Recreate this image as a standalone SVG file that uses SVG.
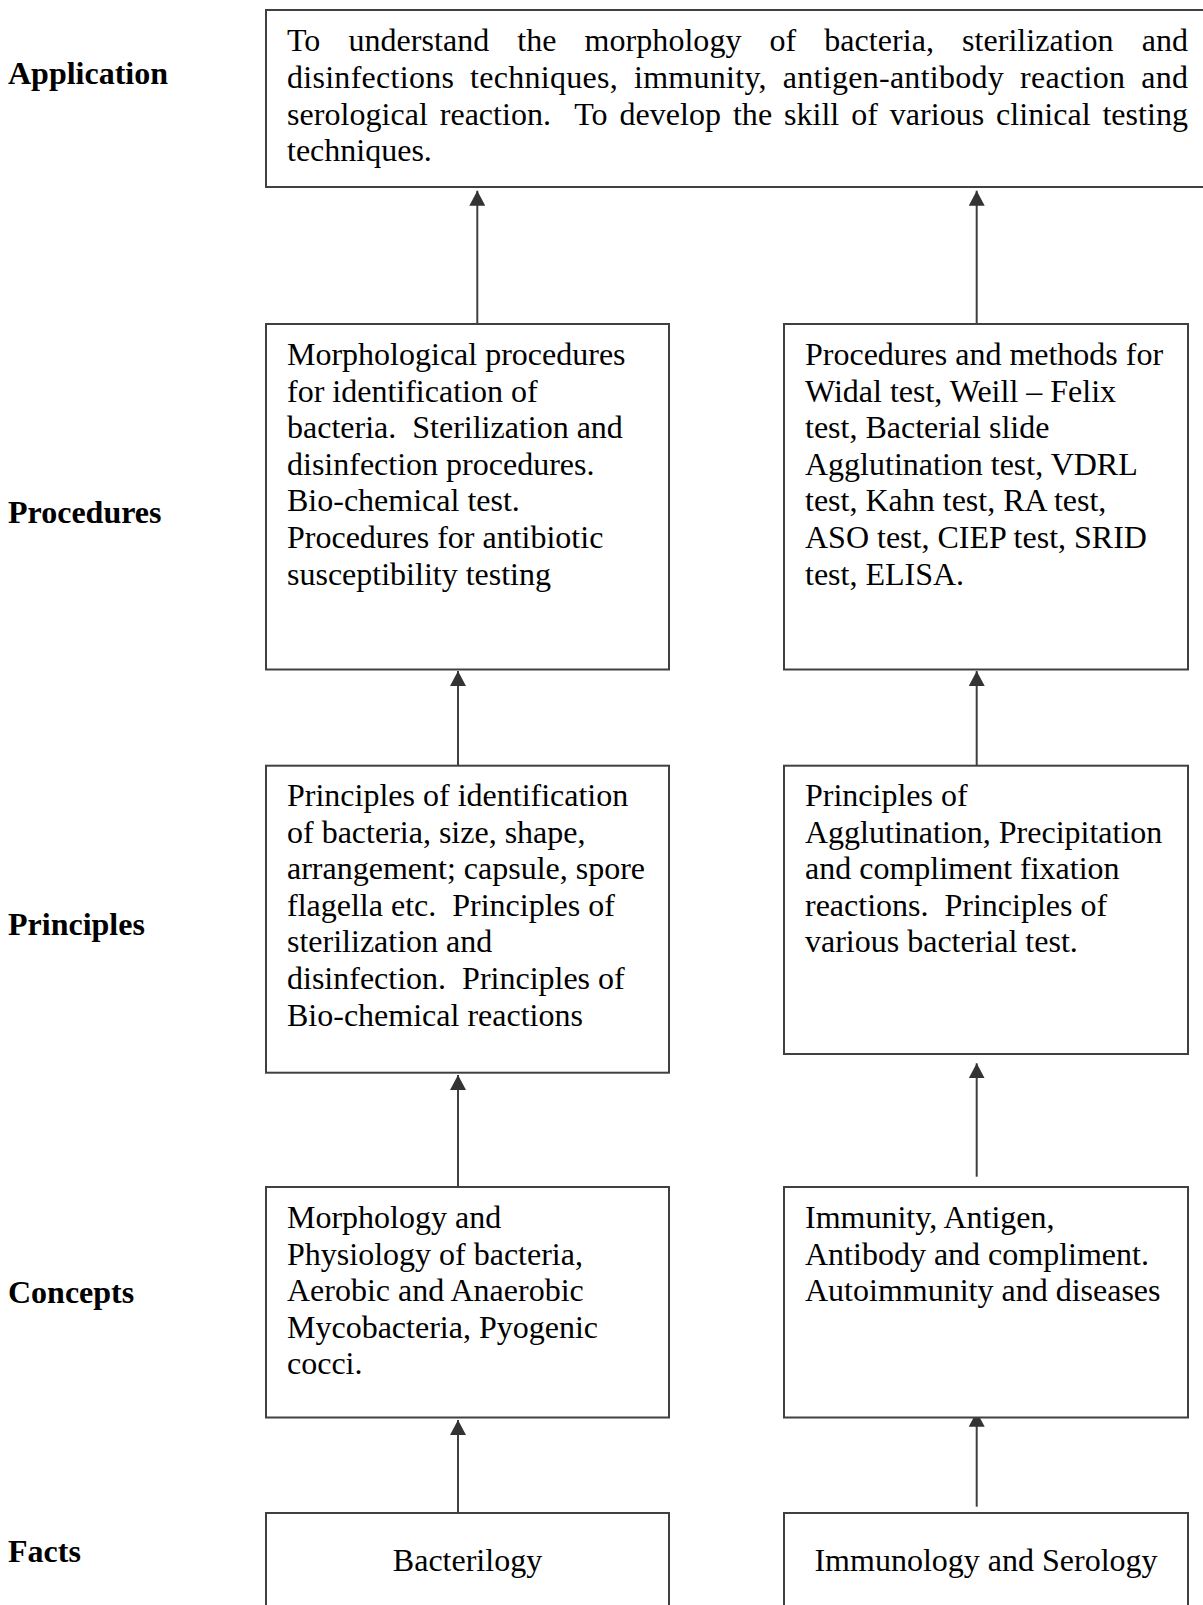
<svg xmlns="http://www.w3.org/2000/svg" width="1203" height="1605" viewBox="0 0 1203 1605">
<style>
.box{fill:#fff;stroke:#404040;stroke-width:2}
.t{font-family:"Liberation Serif","Times New Roman",serif;font-size:32px;fill:#000}
.lbl{font-family:"Liberation Serif","Times New Roman",serif;font-size:32px;font-weight:bold;fill:#000}
.c{stroke:#404040;stroke-width:2;fill:none;marker-end:url(#ah)}
</style>
<defs>
<marker id="ah" markerUnits="userSpaceOnUse" viewBox="0 0 15 16" refX="15" refY="8" markerWidth="15" markerHeight="16" orient="auto">
<path d="M0,0 L15,8 L0,16 z" fill="#333"/>
</marker>
</defs>
<rect width="1203" height="1605" fill="#fff"/>
<g id="labels">
<text class="lbl" x="8" y="84">Application</text>
<text class="lbl" x="8" y="523">Procedures</text>
<text class="lbl" x="8" y="935">Principles</text>
<text class="lbl" x="8" y="1303">Concepts</text>
<text class="lbl" x="8" y="1562">Facts</text>
</g>
<g id="connectors">
<line class="c" x1="477.3" y1="324" x2="477.3" y2="190.7"/>
<line class="c" x1="976.7" y1="324" x2="976.7" y2="190.7"/>
<line class="c" x1="458" y1="765.7" x2="458" y2="671"/>
<line class="c" x1="976.7" y1="765.7" x2="976.7" y2="671"/>
<line class="c" x1="458" y1="1187" x2="458" y2="1075"/>
<line class="c" x1="976.7" y1="1176.7" x2="976.7" y2="1063.3"/>
<line class="c" x1="458" y1="1513" x2="458" y2="1420"/>
<line class="c" x1="976.7" y1="1506.7" x2="976.7" y2="1411.7"/>
</g>
<g id="application">
<rect class="box" x="266" y="10" width="960" height="177"/>
<text class="t">
<tspan x="287" y="51" word-spacing="20" textLength="901" lengthAdjust="spacing">To understand the morphology of bacteria, sterilization and</tspan>
<tspan x="287" y="88" word-spacing="7.6" textLength="901" lengthAdjust="spacing">disinfections techniques, immunity, antigen-antibody reaction and</tspan>
<tspan x="287" y="124.5" word-spacing="3.8" textLength="901" lengthAdjust="spacing" xml:space="preserve">serological reaction.  To develop the skill of various clinical testing</tspan>
<tspan x="287" y="161">techniques.</tspan>
</text>
</g>
<g id="proc-left">
<rect class="box" x="266" y="324" width="403" height="345.5"/>
<text class="t" xml:space="preserve"><tspan x="287" y="365">Morphological procedures</tspan><tspan x="287" y="401.6">for identification of</tspan><tspan x="287" y="438.2">bacteria.  Sterilization and</tspan><tspan x="287" y="474.8">disinfection procedures.</tspan><tspan x="287" y="511.4">Bio-chemical test.</tspan><tspan x="287" y="548">Procedures for antibiotic</tspan><tspan x="287" y="584.6">susceptibility testing</tspan></text>
</g>
<g id="proc-right">
<rect class="box" x="784" y="324" width="404" height="345.5"/>
<text class="t"><tspan x="805" y="365">Procedures and methods for</tspan><tspan x="805" y="401.6">Widal test, Weill – Felix</tspan><tspan x="805" y="438.2">test, Bacterial slide</tspan><tspan x="805" y="474.8">Agglutination test, VDRL</tspan><tspan x="805" y="511.4">test, Kahn test, RA test,</tspan><tspan x="805" y="548">ASO test, CIEP test, SRID</tspan><tspan x="805" y="584.6">test, ELISA.</tspan></text>
</g>
<g id="princ-left">
<rect class="box" x="266" y="765.7" width="403" height="307"/>
<text class="t" xml:space="preserve"><tspan x="287" y="806">Principles of identification</tspan><tspan x="287" y="842.6">of bacteria, size, shape,</tspan><tspan x="287" y="879.2">arrangement; capsule, spore</tspan><tspan x="287" y="915.8">flagella etc.  Principles of</tspan><tspan x="287" y="952.4">sterilization and</tspan><tspan x="287" y="989">disinfection.  Principles of</tspan><tspan x="287" y="1025.6">Bio-chemical reactions</tspan></text>
</g>
<g id="princ-right">
<rect class="box" x="784" y="765.7" width="404" height="288.3"/>
<text class="t" xml:space="preserve"><tspan x="805" y="806">Principles of</tspan><tspan x="805" y="842.6">Agglutination, Precipitation</tspan><tspan x="805" y="879.2">and compliment fixation</tspan><tspan x="805" y="915.8">reactions.  Principles of</tspan><tspan x="805" y="952.4">various bacterial test.</tspan></text>
</g>
<g id="conc-left">
<rect class="box" x="266" y="1187" width="403" height="230.5"/>
<text class="t"><tspan x="287" y="1228">Morphology and</tspan><tspan x="287" y="1264.6">Physiology of bacteria,</tspan><tspan x="287" y="1301.2">Aerobic and Anaerobic</tspan><tspan x="287" y="1337.8">Mycobacteria, Pyogenic</tspan><tspan x="287" y="1374.4">cocci.</tspan></text>
</g>
<g id="conc-right">
<rect class="box" x="784" y="1187" width="404" height="230.5"/>
<text class="t"><tspan x="805" y="1228">Immunity, Antigen,</tspan><tspan x="805" y="1264.6">Antibody and compliment.</tspan><tspan x="805" y="1301.2">Autoimmunity and diseases</tspan></text>
</g>
<g id="facts-left">
<rect class="box" x="266" y="1513" width="403" height="120"/>
<text class="t" x="467.5" y="1571" text-anchor="middle">Bacterilogy</text>
</g>
<g id="facts-right">
<rect class="box" x="784" y="1513" width="404" height="120"/>
<text class="t" x="986" y="1571" text-anchor="middle">Immunology and Serology</text>
</g>
</svg>
